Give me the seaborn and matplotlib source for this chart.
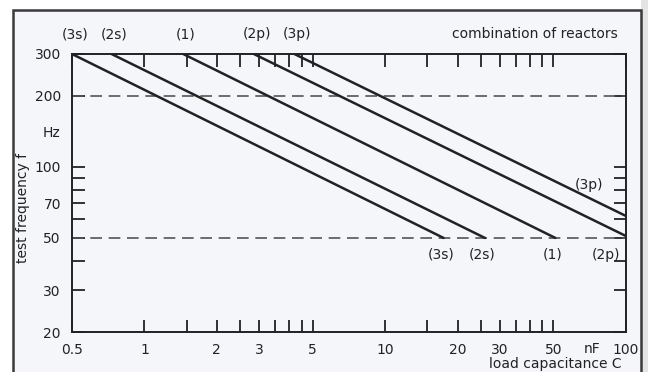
import pandas as pd
import matplotlib
matplotlib.use("Agg")
import matplotlib.pyplot as plt
import seaborn as sns
from matplotlib.patches import Rectangle

# reactor combinations: straight lines on log-log, start at 300 Hz, end at the 50 Hz line / right edge
combos = ['(3s)', '(2s)', '(1)', '(2p)', '(3p)']
cap_start = [0.5, 0.73, 1.45, 2.85, 4.2]
freq_start = [300, 300, 300, 300, 300]
cap_end = [17.5, 26, 51, 100, 100]
freq_end = [50, 50, 50, 51, 62]

ref_freqs = [50, 200]

x_ticks = [0.5, 1, 1.5, 2, 2.5, 3, 3.5, 4, 4.5, 5, 10, 15, 20, 25, 30, 35, 40, 45, 50, 100]
x_labels = ['0.5', '1', '', '2', '', '3', '', '', '', '5', '10', '', '20', '', '30', '', '', '', '50', '100']
y_ticks = [20, 30, 40, 50, 60, 70, 80, 90, 100, 200, 300]
y_labels = ['20', '30', '', '50', '', '70', '', '', '100', '200', '300']

INK = '#222222'

rows = []
for name, c0, f0, c1, f1 in zip(combos, cap_start, freq_start, cap_end, freq_end):
    rows.append({'combination': name, 'C': c0, 'f': f0})
    rows.append({'combination': name, 'C': c1, 'f': f1})
df = pd.DataFrame(rows)

sns.set_theme(style='white')
plt.rcParams['font.family'] = ['DejaVu Sans']
plt.rcParams['text.color'] = INK

fig = plt.figure(figsize=(6.48, 3.72), dpi=100, facecolor='white')
# scanned page frame
fig.patches.append(Rectangle((641 / 648, 0), 7 / 648, 1, transform=fig.transFigure,
                             facecolor='#e4e4e6', edgecolor='none', zorder=-2))
fig.patches.append(Rectangle((13 / 648, -0.05), 628 / 648, 1 - 10 / 372 + 0.05,
                             transform=fig.transFigure, facecolor='#f5f6f9',
                             edgecolor='#3a3a3a', lw=1.8, zorder=-1))

ax = fig.add_axes([72 / 648, 1 - 332 / 372, (625.7 - 72) / 648, (332 - 54) / 372])
ax.set_facecolor('none')

for f in ref_freqs:
    ax.axhline(f, color='#555555', lw=1.2, ls=(0, (7, 4)), zorder=1)

sns.lineplot(data=df, x='C', y='f', hue='combination', palette=[INK] * len(combos),
             lw=1.8, legend=False, ax=ax, zorder=3)

ax.set_xscale('log')
ax.set_yscale('log')
ax.set_xlim(0.5, 100)
ax.set_ylim(20, 300)

ax.set_xticks(x_ticks)
ax.set_xticklabels(x_labels)
ax.set_yticks(y_ticks)
ax.set_yticklabels(y_labels)
ax.minorticks_off()
ax.tick_params(axis='both', which='major', direction='in', length=9, width=1.3,
               color=INK, labelcolor=INK, labelsize=10, pad=8,
               bottom=True, left=True, top=True, right=True,
               labeltop=False, labelright=False)
ax.set_xlabel('')
ax.set_ylabel('')
for sp in ax.spines.values():
    sp.set_color(INK)
    sp.set_linewidth(1.4)
    sp.set_visible(True)

# labels above the top end of each line
for name, c0 in zip(combos, cap_start):
    ax.annotate(name, xy=(c0, 300), xytext=(2, 9), textcoords='offset points',
                ha='center', va='bottom', fontsize=10, color=INK)

# labels below the 50 Hz ends
for name, c1, f1 in zip(combos[:4], cap_end[:4], freq_end[:4]):
    last = c1 >= 100
    ax.annotate(name, xy=(c1, 50), xytext=(-4 if last else -2, -7), textcoords='offset points',
                ha='right' if last else 'center', va='top', fontsize=10, color=INK)

ax.text(0.959, 0.529, '(3p)', transform=ax.transAxes, ha='right', va='center',
        fontsize=10, color=INK)
ax.text(0.985, 1.045, 'combination of reactors', transform=ax.transAxes,
        ha='right', va='bottom', fontsize=10, color=INK)

fig.text(52 / 648, 1 - 133 / 372, 'Hz', ha='center', va='center', fontsize=10, color=INK)
fig.text(592 / 648, 1 - 349 / 372, 'nF', ha='center', va='center', fontsize=10, color=INK)
fig.text(23 / 648, 1 - 208 / 372, 'test frequency f', rotation=90, ha='center',
         va='center', fontsize=10, color=INK)
fig.text(622 / 648, 1 - 357 / 372, 'load capacitance C', ha='right', va='top',
         fontsize=10, color=INK)

fig.savefig('out.png', dpi=100, facecolor=fig.get_facecolor())
